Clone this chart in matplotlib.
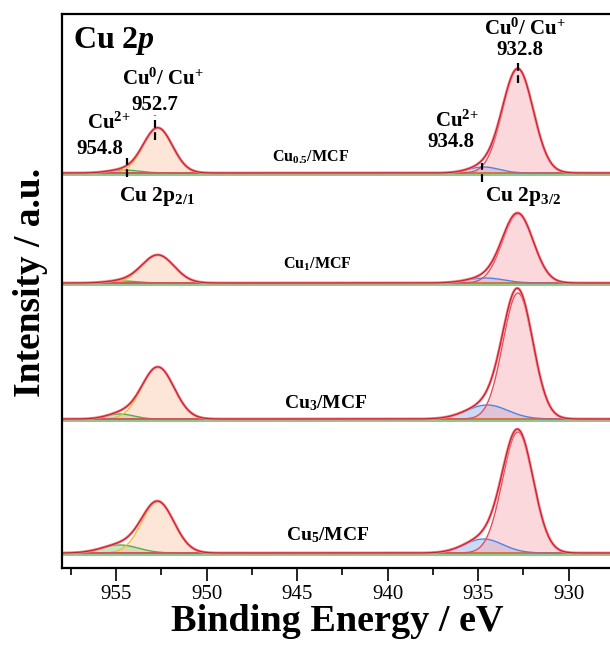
import numpy as np
import matplotlib
matplotlib.use('Agg')
from matplotlib import pyplot as plt
from matplotlib.ticker import MultipleLocator

plt.rcParams['font.family'] = 'Liberation Serif'
plt.rcParams['mathtext.fontset'] = 'custom'
plt.rcParams['mathtext.rm'] = 'Liberation Serif:bold'
plt.rcParams['mathtext.bf'] = 'Liberation Serif:bold'
plt.rcParams['mathtext.it'] = 'Liberation Serif:bold:italic'
plt.rcParams['mathtext.default'] = 'bf'

# samples, from top to bottom, and their vertical offsets (a.u.)
samples = ['Cu$_{0.5}$/MCF', 'Cu$_1$/MCF', 'Cu$_3$/MCF', 'Cu$_5$/MCF']
offsets = [395, 285, 149, 15]

# fitted peak parameters: centre (eV), height (a.u.), FWHM (eV)
# Cu0/Cu+ 2p3/2
centre_32 = [932.8, 932.8, 932.8, 932.8]
height_32 = [104, 69, 126, 121]
fwhm_32 = [2.0, 2.0, 1.95, 2.0]
# Cu2+ 2p3/2
centre_cu2_32 = [934.7, 934.6, 934.5, 934.7]
height_cu2_32 = [6, 5, 14, 14]
fwhm_cu2_32 = [2.0, 2.4, 2.7, 2.5]
# Cu0/Cu+ 2p1/2
centre_12 = [952.7, 952.7, 952.7, 952.7]
height_12 = [45, 28, 52, 51]
fwhm_12 = [1.9, 2.1, 2.1, 2.1]
# Cu2+ 2p1/2
centre_cu2_12 = [954.6, 954.7, 954.8, 954.8]
height_cu2_12 = [3, 2, 5, 8]
fwhm_cu2_12 = [2.0, 2.0, 1.8, 2.4]

# marked peak positions (label, energy) on the top spectrum
marks = [('954.8', 954.4), ('952.7', 952.85), ('934.8', 934.8), ('932.8', 932.8)]

energy = np.linspace(958, 927.6, 1500)


def gauss(x, c, h, w):
    s = w / 2.3548
    return h * np.exp(-0.5 * ((x - c) / s) ** 2)


fig = plt.figure(figsize=(6.10, 6.59), dpi=100)
ax = fig.add_axes([0.1016, 0.1381, 0.9016, 0.8407])

comps = [
    (centre_cu2_12, height_cu2_12, fwhm_cu2_12, '#8fcf88', '#4fae4a', 0.5),
    (centre_12, height_12, fwhm_12, '#fbc9a8', '#f6b93b', 0.45),
    (centre_cu2_32, height_cu2_32, fwhm_cu2_32, '#98b8ee', '#4a86e8', 0.5),
    (centre_32, height_32, fwhm_32, '#f6a9b0', '#e2505e', 0.45),
]

for i, off in enumerate(offsets):
    total = np.zeros_like(energy)
    for cen, hgt, fw, fc, ec, a in comps:
        y = gauss(energy, cen[i], hgt[i], fw[i])
        total += y
        ax.fill_between(energy, off, off + y, color=fc, alpha=a, lw=0)
        ax.plot(energy, off + y, color=ec, lw=1.0)
    ax.axhline(off - 1.8, color='#5cb85c', lw=1.3, alpha=0.8)
    ax.axhline(off, color='#d9534f', lw=1.2, alpha=0.8)
    ax.plot(energy, off + total, color='#f08a90', lw=2.0)
    ax.plot(energy, off + total, color='#cc2030', lw=0.9)

# sample labels
label_x = [946.4, 945.8, 945.7, 945.6]
label_y = [406, 299, 160, 28]
label_size = [11.5, 11.5, 14, 14]
for name, lx, ly, fs in zip(samples, label_x, label_y, label_size):
    ax.text(lx, ly, name, fontsize=fs, ha='left', va='baseline', fontweight='bold')

# peak markers on the top spectrum
mark_y0 = [391, 428, 386, 485]
mark_y1 = [410, 453, 405, 508]
for (lab, e), y0, y1 in zip(marks, mark_y0, mark_y1):
    ax.plot([e, e], [y0, y1], color='black', lw=1.6, ls=(0, (3.5, 2)))

kw = dict(fontsize=15, ha='center', va='center', fontweight='bold')
ax.text(955.4, 445, 'Cu$^{2{+}}$', **kw)
ax.text(955.9, 419, '954.8', **kw)
ax.text(952.4, 489, 'Cu$^0$/ Cu$^{{+}}$', **kw)
ax.text(952.85, 463, '952.7', **kw)
ax.text(936.2, 447, 'Cu$^{2{+}}$', **kw)
ax.text(936.5, 426, '934.8', **kw)
ax.text(932.4, 539, 'Cu$^0$/ Cu$^{{+}}$', **kw)
ax.text(932.7, 518, '932.8', **kw)

ax.text(952.75, 371, 'Cu 2p$_{2/1}$', fontsize=15.5, ha='center', va='center', fontweight='bold')
ax.text(932.5, 371, 'Cu 2p$_{3/2}$', fontsize=15.5, ha='center', va='center', fontweight='bold')
ax.text(957.4, 520, 'Cu 2$\\mathit{p}$', fontsize=23, ha='left', va='baseline', fontweight='bold')

ax.set_xlim(958, 927.6)
ax.set_ylim(0, 554)
ax.xaxis.set_major_locator(MultipleLocator(5))
ax.xaxis.set_minor_locator(MultipleLocator(2.5))
ax.tick_params(axis='x', which='major', direction='out', length=9, width=1.2,
               labelsize=15, pad=3)
ax.tick_params(axis='x', which='minor', direction='out', length=5, width=1.2)
ax.set_yticks([])
for side in ['left', 'bottom', 'top']:
    ax.spines[side].set_linewidth(1.6)
ax.spines['right'].set_visible(False)

ax.set_xlabel('Binding Energy / eV', fontsize=27.5, fontweight='bold', labelpad=0)
ax.set_ylabel('Intensity / a.u.', fontsize=27, fontweight='bold')
ax.yaxis.set_label_coords(-0.025, 0.516)

fig.savefig('out.png', dpi=100)
